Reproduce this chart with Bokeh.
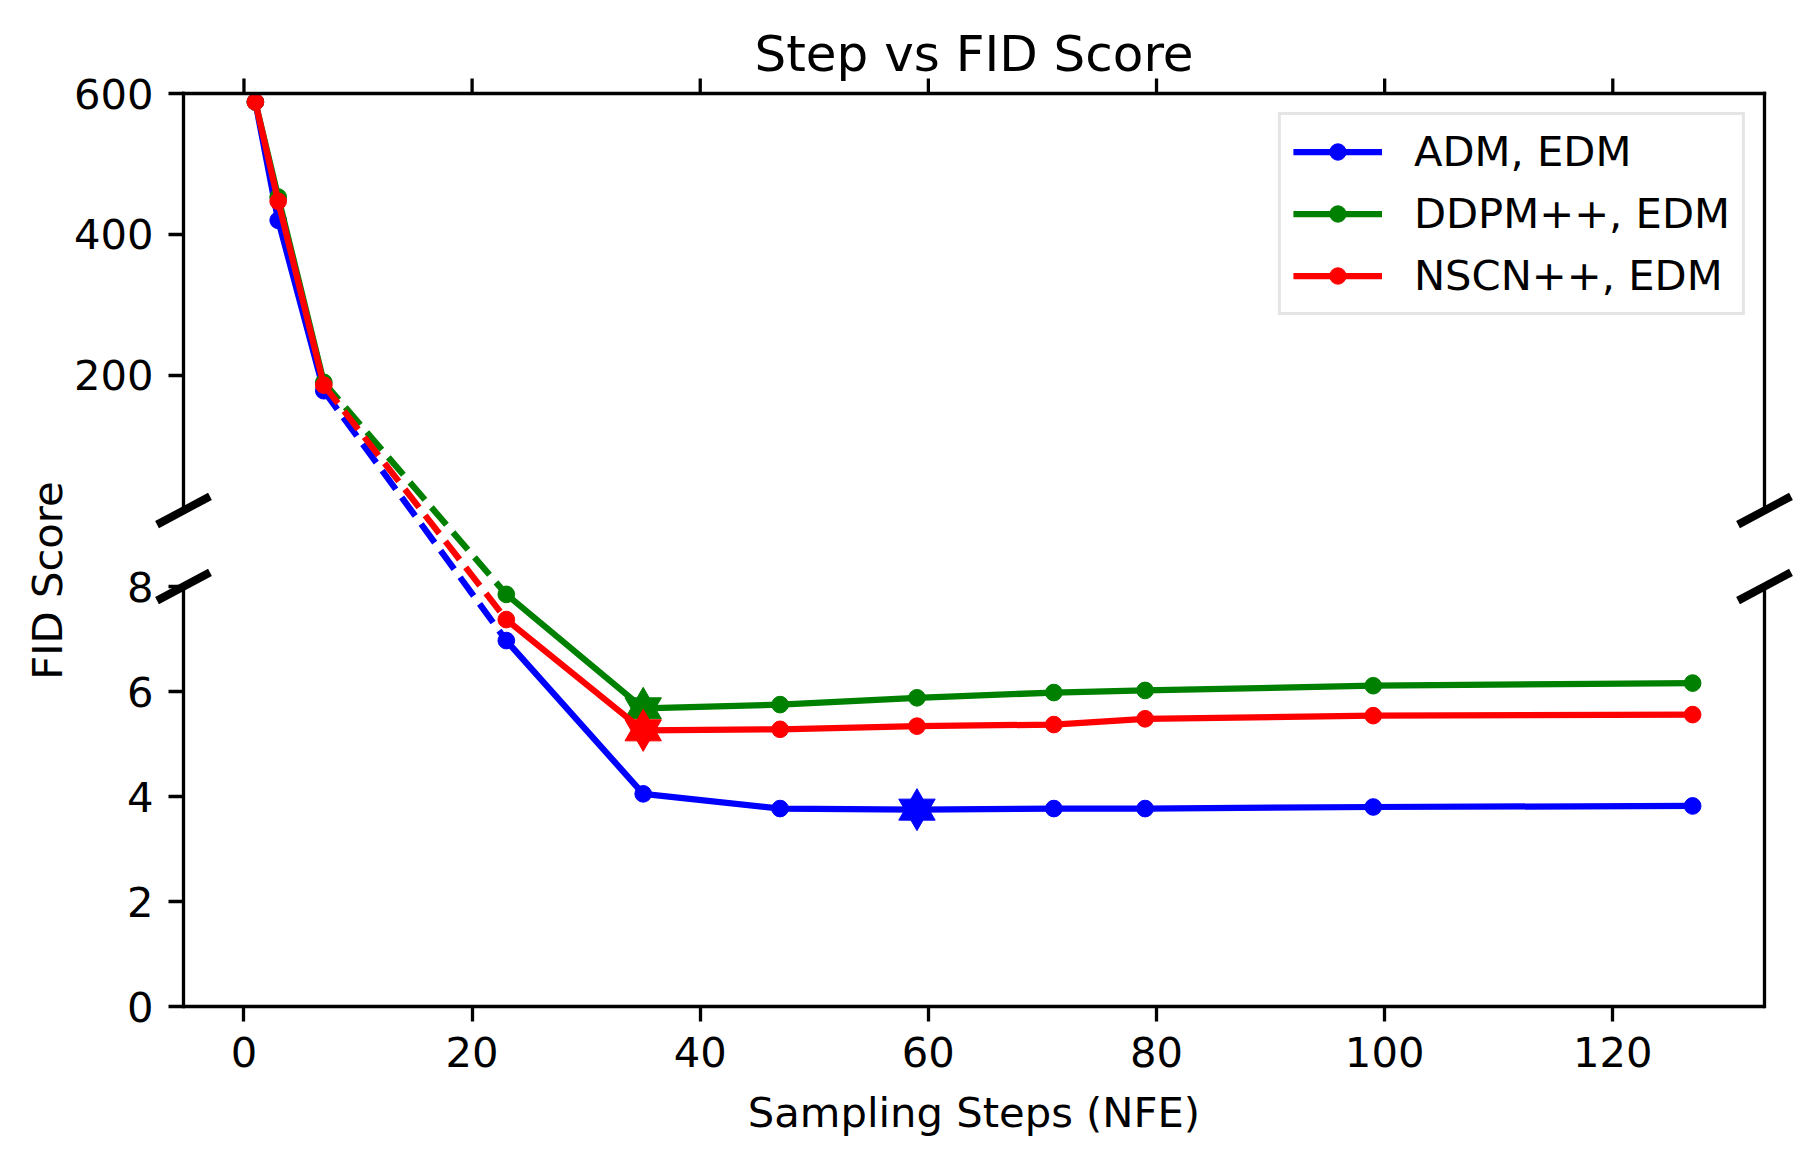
import math
import numpy as np
from bokeh.plotting import figure
from bokeh.models import Range1d, LinearAxis, FixedTicker, CustomJSTickFormatter
from bokeh.core.properties import value
from bokeh.embed import file_html
from bokeh.resources import INLINE

# ---------------- data ----------------
steps = [1, 3, 7, 23, 35, 47, 59, 71, 79, 99, 127]
adm_edm = [588, 420, 178, 6.97, 4.05, 3.77, 3.75, 3.77, 3.77, 3.80, 3.82]
ddpm_edm = [588, 453, 190, 7.85, 5.68, 5.75, 5.88, 5.98, 6.02, 6.11, 6.16]
ncsn_edm = [588, 447, 186, 7.37, 5.26, 5.28, 5.34, 5.37, 5.48, 5.54, 5.56]
series_names = ["ADM, EDM", "DDPM++, EDM", "NSCN++, EDM"]
series_colors = ["blue", "green", "red"]
x_ticks = [0, 20, 40, 60, 80, 100, 120]
top_ticks = [200, 400, 600]
bottom_ticks = [0, 2, 4, 6, 8]
top_limits = (8, 600)
bottom_limits = (0, 8)

# ---------------- layout constants (px) ----------------
FONT = "DejaVu Sans"
OFF = 0                                  # page offset of the figure
W, H = 1800, 1150
FRAME_LEFT, FRAME_RIGHT = 183, 1764      # page px
FRAME_TOP, FRAME_BOTTOM = 93, 1006
TOP_PANEL_PX = 417
BOT_PANEL_PX = 420
YLABEL_X, YLABEL_Y = 47, 580             # page px of the y-axis title centre
LW = 6.25
MS = 16.7
STAR_R = 21.0
SPINE_W = 3.3
TICK_LEN = 15

frame_h = FRAME_BOTTOM - FRAME_TOP
frame_w = FRAME_RIGHT - FRAME_LEFT

# x range with matplotlib-like 5% margins
xmin, xmax = min(steps), max(steps)
pad = 0.05 * (xmax - xmin)
x_lo, x_hi = xmin - pad, xmax + pad
x_per_px = (x_hi - x_lo) / frame_w

# y ranges: both mapped onto the same frame
top_per_px = (top_limits[1] - top_limits[0]) / TOP_PANEL_PX
top_start = top_limits[1] - frame_h * top_per_px
bot_per_px = (bottom_limits[1] - bottom_limits[0]) / BOT_PANEL_PX
bot_end = bottom_limits[0] + frame_h * bot_per_px

p = figure(width=W, height=H,
           x_range=Range1d(x_lo, x_hi), y_range=Range1d(bottom_limits[0], bot_end),
           output_backend="svg", toolbar_location=None,
           x_axis_location=None, y_axis_location=None,
           min_border_left=FRAME_LEFT - OFF, min_border_right=OFF + W - FRAME_RIGHT,
           min_border_top=FRAME_TOP - OFF, min_border_bottom=OFF + H - FRAME_BOTTOM)
p.extra_y_ranges = {"top": Range1d(top_start, top_limits[1])}
p.grid.grid_line_color = None
p.outline_line_color = None
p.background_fill_color = "white"
p.border_fill_color = "white"

p.title.text = "Step vs FID Score"
p.title.align = "center"
p.title.text_font = FONT
p.title.text_font_size = "50px"
p.title.text_font_style = "normal"
p.title.text_color = "black"
p.title.standoff = 22

top_rng = p.extra_y_ranges["top"]
bot_rng = p.y_range


def to_top(v):
    frac = (v - bot_rng.start) / (bot_rng.end - bot_rng.start)
    return top_rng.start + frac * (top_rng.end - top_rng.start)


def to_bottom(v):
    frac = (v - top_rng.start) / (top_rng.end - top_rng.start)
    return bot_rng.start + frac * (bot_rng.end - bot_rng.start)


def style_axis(ax):
    ax.axis_line_width = SPINE_W
    ax.axis_line_color = "black"
    ax.major_tick_line_width = SPINE_W
    ax.major_tick_line_color = "black"
    ax.major_tick_out = TICK_LEN
    ax.major_tick_in = 0
    ax.minor_tick_line_color = None
    ax.major_label_text_font = FONT
    ax.major_label_text_font_size = "41.7px"
    ax.major_label_text_color = "black"
    return ax


# left axis: one axis carrying the ticks of both panels
left_ticks = list(bottom_ticks) + [to_bottom(t) for t in top_ticks]
ax_left = style_axis(LinearAxis(ticker=FixedTicker(ticks=left_ticks)))
ax_left.axis_line_color = None
ax_left.major_label_standoff = 15
ax_left.formatter = CustomJSTickFormatter(
    args=dict(b0=bot_rng.start, b1=bot_rng.end, t0=top_rng.start, t1=top_rng.end,
              brk=bottom_limits[1]),
    code="""
    if (tick > brk + 1e-6) {
        const v = t0 + (tick - b0) / (b1 - b0) * (t1 - t0);
        return Math.round(v).toString();
    }
    return Math.round(tick).toString();
    """)
p.add_layout(ax_left, "left")

# bottom axis
ax_bot = style_axis(LinearAxis(ticker=FixedTicker(ticks=x_ticks), axis_label="Sampling Steps (NFE)"))
ax_bot.major_label_standoff = 15
ax_bot.axis_label_standoff = 18
ax_bot.axis_label_text_font = FONT
ax_bot.axis_label_text_font_size = "41.7px"
ax_bot.axis_label_text_font_style = "normal"
ax_bot.axis_label_text_color = "black"
p.add_layout(ax_bot, "below")

# top spine with outward ticks (no labels)
p.segment(x0=[x_lo], y0=[top_limits[1]], x1=[x_hi], y1=[top_limits[1]], y_range_name="top",
          line_color="black", line_width=SPINE_W, line_cap="square", level="overlay")
p.segment(x0=x_ticks, y0=[top_limits[1]] * len(x_ticks), x1=x_ticks,
          y1=[top_limits[1] + TICK_LEN * top_per_px] * len(x_ticks), y_range_name="top",
          line_color="black", line_width=SPINE_W, level="overlay")

# vertical spines of the two panels (left and right)
for xe in (x_lo, x_hi):
    p.segment(x0=[xe], y0=[top_limits[0]], x1=[xe], y1=[top_limits[1]], y_range_name="top",
              line_color="black", line_width=SPINE_W, line_cap="square", level="overlay")
    p.segment(x0=[xe], y0=[bottom_limits[0]], x1=[xe], y1=[bottom_limits[1]],
              line_color="black", line_width=SPINE_W, line_cap="square", level="overlay")

# series
all_series = [adm_edm, ddpm_edm, ncsn_edm]
xs = np.array(steps, dtype=float)
for name, vals, col in zip(series_names, all_series, series_colors):
    v = np.array(vals, dtype=float)
    is_top = v > top_limits[0]
    xt, yt = xs[is_top], v[is_top]
    xb, yb = xs[~is_top], v[~is_top]
    p.line(xt, yt, y_range_name="top", line_color=col, line_width=LW,
           line_join="round", legend_label=name)
    p.scatter(xt, yt, y_range_name="top", size=MS, color=col, legend_label=name)
    # dashed connection across the break
    k = int(np.where(is_top)[0][-1])
    p.line([xs[k], xs[k + 1]], [v[k], to_top(v[k + 1])], y_range_name="top",
           line_color=col, line_width=LW, line_dash="23 10")
    p.line(xb, yb, line_color=col, line_width=LW, line_join="round")
    p.scatter(xb, yb, size=MS, color=col)
    # best point: six-pointed star
    b = int(np.argmin(v))
    tri = STAR_R * math.sqrt(3)
    p.scatter([xs[b]], [v[b]], marker="triangle", size=tri, color=col)
    p.scatter([xs[b]], [v[b]], marker="inverted_triangle", size=tri, color=col)

# break marks
for yname, yv in (("top", top_limits[0]), ("default", bottom_limits[1])):
    p.scatter([x_lo, x_hi], [yv, yv], y_range_name=yname, marker="dash", size=60,
              angle=0.49, line_color="black", line_width=8, level="overlay")

# y label (figure-centred), positioned through the data scales
p.text(x=[x_lo - (FRAME_LEFT - YLABEL_X) * x_per_px],
       y=[bottom_limits[0] + (FRAME_BOTTOM - YLABEL_Y) * bot_per_px],
       text=["FID Score"], angle=math.pi / 2, text_align="center",
       text_baseline="middle", text_font=value(FONT), text_font_size="41.7px",
       text_color="black", level="overlay")

# legend
lg = p.legend[0]
lg.location = "top_right"
lg.margin = 19
lg.padding = 12
lg.spacing = 13
lg.glyph_width = 89
lg.glyph_height = 41
lg.label_height = 41
lg.label_standoff = 32
lg.label_text_font = FONT
lg.label_text_font_size = "41.7px"
lg.label_text_color = "black"
lg.border_line_color = "#cccccc"
lg.border_line_width = 3.3
lg.background_fill_alpha = 0.8

open("out.html", "w").write(file_html(p, INLINE))
